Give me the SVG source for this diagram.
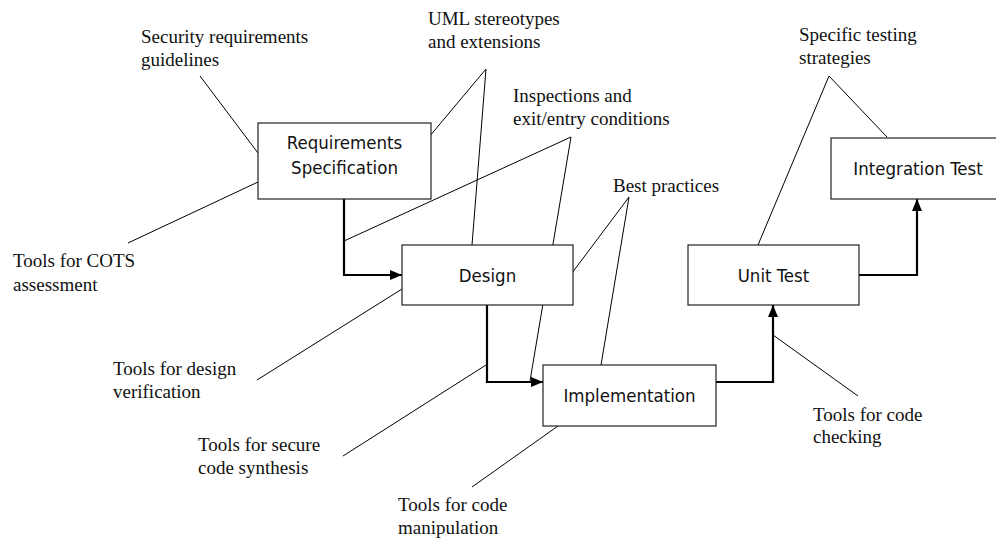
<svg xmlns="http://www.w3.org/2000/svg" width="996" height="538" viewBox="0 0 996 538">
  <style>
    .box { fill: #fff; stroke: #222; stroke-width: 1.2; }
    .boxlabel { font-family: "DejaVu Sans Condensed", "DejaVu Sans", sans-serif; font-size: 18.5px; fill: #111; text-anchor: middle; }
    .note { font-family: "Liberation Serif", "Times New Roman", serif; font-size: 19px; fill: #111; }
    .lead { fill: none; stroke: #000; stroke-width: 1; }
    .flow { fill: none; stroke: #000; stroke-width: 2.2; marker-end: url(#arrow); }
  </style>
  <defs>
    <marker id="arrow" markerWidth="12" markerHeight="10" refX="12" refY="5" orient="auto" markerUnits="userSpaceOnUse">
      <path d="M0,0 L12,5 L0,10 Z" fill="#000"/>
    </marker>
  </defs>

  <rect width="996" height="538" fill="#fff"/>

  <!-- process flow and annotation leaders -->
  <g id="connectors">
    <polyline class="flow" points="344,199 344,275 402,275"/>
    <polyline class="flow" points="487,305 487,382 543,382"/>
    <polyline class="flow" points="716,382 773,382 773,305"/>
    <polyline class="flow" points="859,275 917,275 917,199"/>

    <line class="lead" x1="200" y1="76" x2="258" y2="153"/>
    <polyline class="lead" points="429,137 486,69 472,245"/>
    <polyline class="lead" points="344,241 571,137 530,381"/>
    <line class="lead" x1="128" y1="243" x2="258" y2="182"/>
    <line class="lead" x1="257" y1="380" x2="402" y2="289"/>
    <line class="lead" x1="343" y1="456" x2="486" y2="365"/>
    <polyline class="lead" points="572,273 629,197 601,365"/>
    <line class="lead" x1="472" y1="487" x2="558" y2="426"/>
    <polyline class="lead" points="758,245 829,76 887,137"/>
    <line class="lead" x1="773" y1="335" x2="858" y2="396"/>
  </g>

  <g id="requirements">
    <rect class="box" x="258" y="123" width="173" height="76"/>
    <text class="boxlabel" x="344.5" y="149">Requirements</text>
    <text class="boxlabel" x="344.5" y="174">Specification</text>
  </g>
  <g id="design">
    <rect class="box" x="402" y="245" width="171" height="60"/>
    <text class="boxlabel" x="487.5" y="282">Design</text>
  </g>
  <g id="implementation">
    <rect class="box" x="543" y="365" width="173" height="61"/>
    <text class="boxlabel" x="629.5" y="402">Implementation</text>
  </g>
  <g id="unit-test">
    <rect class="box" x="688" y="245" width="171" height="60"/>
    <text class="boxlabel" x="773.5" y="282">Unit Test</text>
  </g>
  <g id="integration-test">
    <rect class="box" x="831" y="138" width="174" height="61"/>
    <text class="boxlabel" x="918" y="175">Integration Test</text>
  </g>

  <g id="note-security">
    <text class="note" x="141" y="43">Security requirements</text>
    <text class="note" x="141" y="66">guidelines</text>
  </g>
  <g id="note-uml">
    <text class="note" x="428" y="25">UML stereotypes</text>
    <text class="note" x="428" y="48">and extensions</text>
  </g>
  <g id="note-inspections">
    <text class="note" x="513" y="102">Inspections and</text>
    <text class="note" x="513" y="125">exit/entry conditions</text>
  </g>
  <g id="note-best">
    <text class="note" x="613" y="192">Best practices</text>
  </g>
  <g id="note-testing">
    <text class="note" x="799" y="41">Specific testing</text>
    <text class="note" x="799" y="64">strategies</text>
  </g>
  <g id="note-cots">
    <text class="note" x="13" y="267">Tools for COTS</text>
    <text class="note" x="13" y="291">assessment</text>
  </g>
  <g id="note-design-verif">
    <text class="note" x="113" y="375">Tools for design</text>
    <text class="note" x="113" y="398">verification</text>
  </g>
  <g id="note-synthesis">
    <text class="note" x="198" y="451">Tools for secure</text>
    <text class="note" x="198" y="474">code synthesis</text>
  </g>
  <g id="note-manipulation">
    <text class="note" x="398" y="511">Tools for code</text>
    <text class="note" x="398" y="534">manipulation</text>
  </g>
  <g id="note-checking">
    <text class="note" x="813" y="421">Tools for code</text>
    <text class="note" x="813" y="443">checking</text>
  </g>
</svg>
